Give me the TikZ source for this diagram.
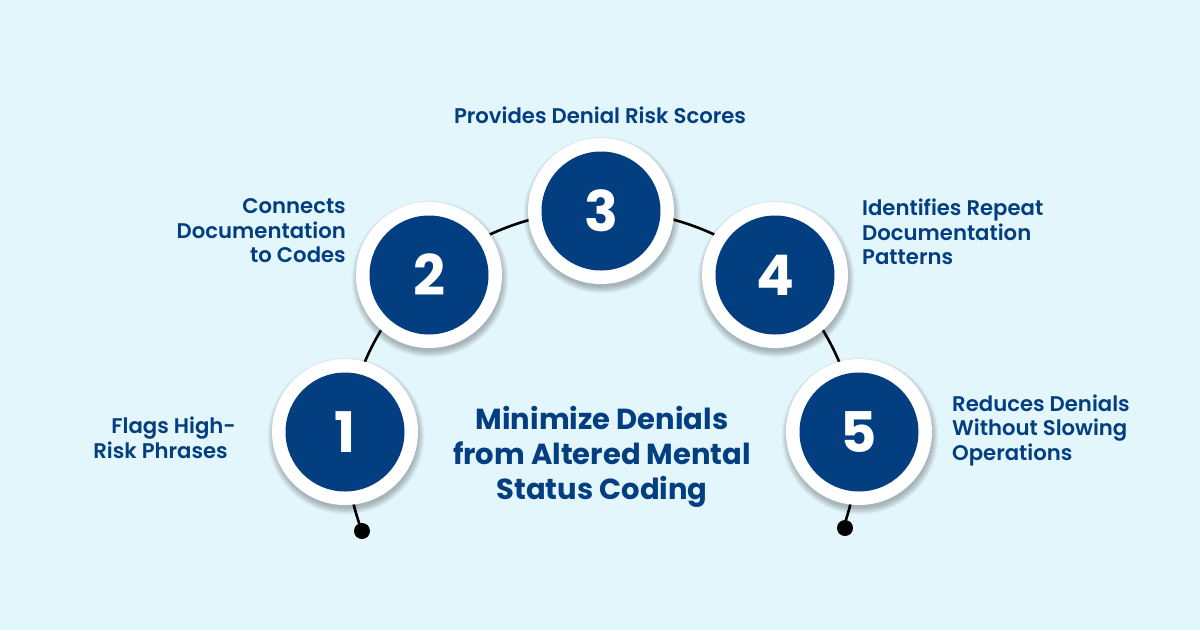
\documentclass[tikz,border=0pt]{standalone}
\usepackage{fontspec}
\setmainfont{Poppins}
\IfFontExistsTF{Poppins SemiBold}
  {\newfontfamily\semib{Poppins SemiBold}}
  {\newcommand\semib{\bfseries}}
\definecolor{bg}{RGB}{227,246,252}
\definecolor{navy}{RGB}{2,62,128}
\begin{document}
\begin{tikzpicture}[x=1pt,y=-1pt,
  ring/.style={circle, fill=white, minimum size=146pt, inner sep=0pt},
  disc/.style={circle, fill=navy, minimum size=119pt, inner sep=0pt, text=white,
    font=\fontsize{56}{56}\selectfont\bfseries},
  dotnode/.style={circle, fill=black, minimum size=16pt, inner sep=0pt},
  lbl/.style={text=navy, inner sep=0pt, font=\fontsize{21.2}{24.5}\selectfont\semib},
  ttl/.style={text=navy, inner sep=0pt, align=center, font=\fontsize{29}{35}\selectfont\bfseries},
  arcline/.style={line width=2.6pt, black}
]
\fill[bg] (0,0) rectangle (1200,630);
\useasboundingbox (0,0) rectangle (1200,630);

% end dots
\node[dotnode] (d1) at (362,531) {};
\node[dotnode] (d5) at (845,528) {};

% arc
\draw[arcline] plot[variable=\t, domain=160.3:379.7, samples=140, smooth]
  ({602+255*cos(\t)},{450+240*sin(\t)});

% circles
\foreach \n/\cx/\cy in {1/345/432, 2/429/275, 3/601/211, 4/775/275, 5/859/432}{
  \foreach \i in {0,...,7}{
    \fill[black, opacity=0.035] (\cx+1,\cy+4) circle ({72+\i*0.9});
  }
  \node[ring] (r\n) at (\cx,\cy) {};
  \node[disc] (c\n) at (\cx,\cy) {\n};
}

% labels
\node[lbl, align=center] (t3) at (600,115) {Provides Denial Risk Scores};
\node[lbl, align=right, anchor=east] (t2) at (346,231) {Connects\\Documentation\\to Codes};
\node[lbl, align=left, anchor=west] (t4) at (862,232) {Identifies Repeat\\Documentation\\Patterns};
\node[lbl, align=right, anchor=east] (t1) at (236,438) {Flags High-\\Risk Phrases\rule{8pt}{0pt}};
\node[lbl, align=left, anchor=west] (t5) at (952,430) {Reduces Denials\\Without Slowing\\Operations};
\node[ttl] (title) at (602,457) {Minimize Denials\\from Altered Mental\\Status Coding};
\end{tikzpicture}
\end{document}
